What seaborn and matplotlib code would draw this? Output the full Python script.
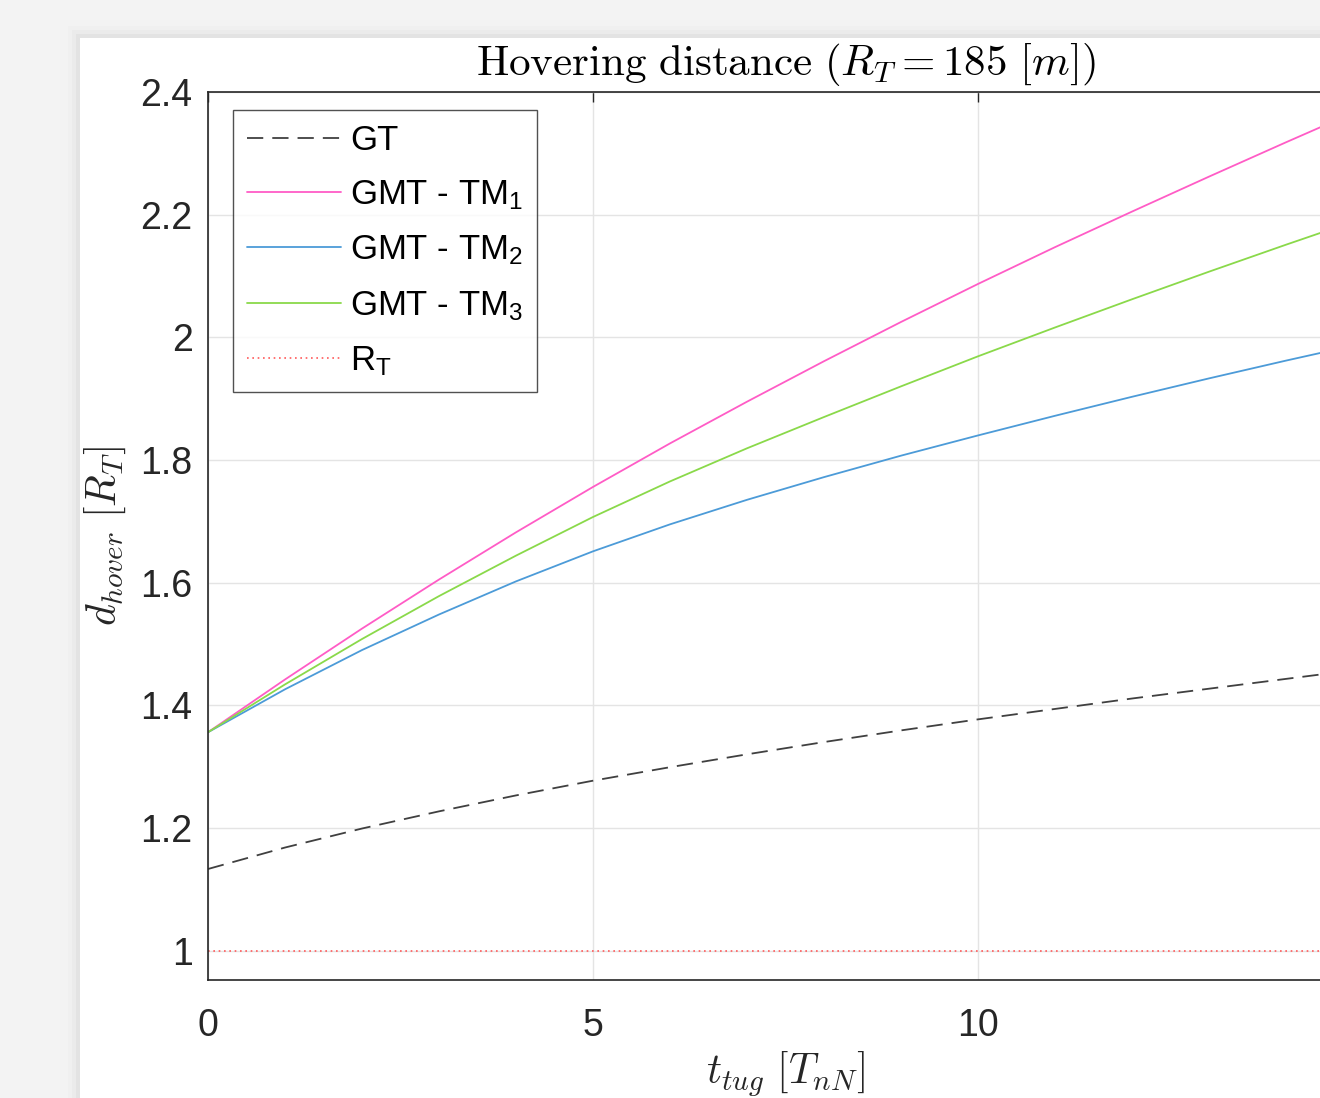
import numpy as np
import pandas as pd
import matplotlib
matplotlib.use("Agg")
import matplotlib.pyplot as plt
from matplotlib.patches import Rectangle
import seaborn as sns

# ---------------- data ----------------
t_tug = [0, 1, 2, 3, 4, 5, 6, 7, 8, 9, 10, 11, 12, 13, 14, 15]
gt = [1.133, 1.168, 1.199, 1.227, 1.253, 1.277, 1.299, 1.320, 1.340, 1.359,
      1.377, 1.394, 1.411, 1.427, 1.443, 1.459]
tm1 = [1.356, 1.442, 1.525, 1.605, 1.682, 1.756, 1.827, 1.895, 1.961, 2.025,
       2.087, 2.147, 2.205, 2.262, 2.318, 2.373]
tm2 = [1.356, 1.426, 1.490, 1.548, 1.602, 1.651, 1.695, 1.735, 1.772, 1.807,
       1.840, 1.872, 1.903, 1.933, 1.962, 1.990]
tm3 = [1.356, 1.434, 1.508, 1.578, 1.644, 1.707, 1.765, 1.819, 1.870, 1.920,
       1.969, 2.016, 2.062, 2.107, 2.151, 2.194]
rt_level = 1.0

labels = ["GT", r"GMT - TM$_\mathrm{1}$", r"GMT - TM$_\mathrm{2}$",
          r"GMT - TM$_\mathrm{3}$", r"R$_\mathrm{T}$"]
x_ticks = [0, 5, 10]
y_ticks = [1.0, 1.2, 1.4, 1.6, 1.8, 2.0, 2.2, 2.4]
y_ticklabels = ["1", "1.2", "1.4", "1.6", "1.8", "2", "2.2", "2.4"]

# ---------------- style ----------------
sns.set_theme(style="white")
plt.rcParams["font.family"] = ["Liberation Sans", "DejaVu Sans"]
plt.rcParams["mathtext.fontset"] = "custom"
plt.rcParams["mathtext.rm"] = "Liberation Sans"
plt.rcParams["mathtext.it"] = "Liberation Sans:italic"
plt.rcParams["mathtext.bf"] = "Liberation Sans:bold"

W, H = 1320, 1098
fig = plt.figure(figsize=(W / 100, H / 100), dpi=100, facecolor="#f3f3f3")

# window panel with a soft shadow
for i, a in enumerate([0.012, 0.02, 0.03]):
    off = (3 - i) * 4
    fig.patches.append(Rectangle(((80 - off) / W, 0), 1, (H - 38 + off) / H,
                                 transform=fig.transFigure, facecolor="black",
                                 alpha=a, edgecolor="none", zorder=-10))
fig.patches.append(Rectangle((80 / W, 0), 1, (H - 38) / H, transform=fig.transFigure,
                             facecolor="white", edgecolor="none", zorder=-9))

ax = fig.add_axes([208 / W, 118 / H, 1155 / W, 888 / H])
ax.set_facecolor("white")

df = pd.DataFrame({"t": t_tug, "GT": gt, "TM1": tm1, "TM2": tm2, "TM3": tm3})
df["RT"] = rt_level

sns.lineplot(data=df, x="t", y="GT", ax=ax, color="#404040", lw=1.3,
             linestyle=(0, (9, 5)), label=labels[0])
sns.lineplot(data=df, x="t", y="TM1", ax=ax, color="#ff5cc6", lw=1.3, label=labels[1])
sns.lineplot(data=df, x="t", y="TM2", ax=ax, color="#4c9bd8", lw=1.3, label=labels[2])
sns.lineplot(data=df, x="t", y="TM3", ax=ax, color="#8ad94a", lw=1.3, label=labels[3])
sns.lineplot(data=df, x="t", y="RT", ax=ax, color="#ff5a5a", lw=1.2,
             linestyle=(0, (1, 2.2)), label=labels[4])

ax.set_xlim(0, 15)
ax.set_ylim(0.952, 2.4)
ax.set_xticks(x_ticks)
ax.set_yticks(y_ticks)
ax.set_yticklabels(y_ticklabels)
ax.tick_params(direction="in", length=7.5, width=1, top=True, right=True,
               labelsize=27, color="#262626", labelcolor="#262626")
ax.tick_params(axis="x", pad=20)
ax.tick_params(axis="y", pad=11)
ax.grid(True, color="#e4e4e4", lw=1)
for s in ax.spines.values():
    s.set_color("#262626")
    s.set_linewidth(1.2)

ax.set_title(r"$\mathrm{Hovering\ distance}\ (R_T = 185\ [m])$", fontsize=31,
             math_fontfamily="cm", pad=12, color="black")
ax.set_ylabel(r"$d_{hover}\ [R_T]$", fontsize=30, math_fontfamily="cm",
              labelpad=9, color="#262626")
ax.set_xlabel(r"$t_{tug}\ [T_{nN}]$", fontsize=30, math_fontfamily="cm",
              labelpad=4, color="#262626")

leg = ax.legend(loc="upper left", bbox_to_anchor=(233 / W, 1 - 110 / H),
                bbox_transform=fig.transFigure, borderaxespad=0, fontsize=25,
                frameon=True, fancybox=False, edgecolor="#262626",
                handlelength=2.7, handletextpad=0.28, labelspacing=0.62,
                borderpad=0.4)
leg.get_frame().set_linewidth(1.0)
for txt in leg.get_texts():
    txt.set_color("black")

fig.savefig("out.png", dpi=100, facecolor=fig.get_facecolor())
